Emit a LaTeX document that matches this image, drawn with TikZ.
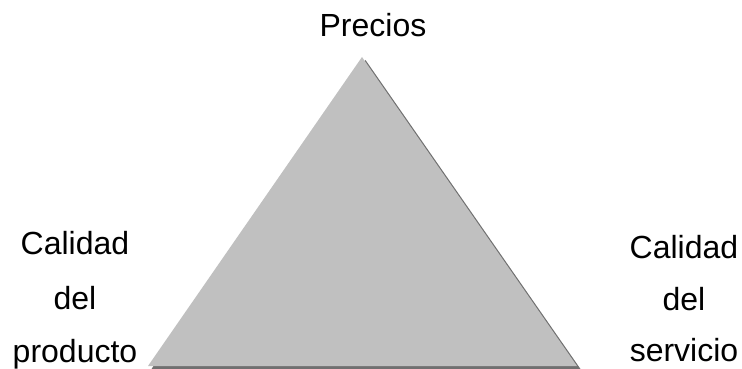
\documentclass[tikz,border=0pt]{standalone}
\usepackage{fontspec}
\setmainfont{Liberation Sans}
\begin{document}
\begin{tikzpicture}[x=1pt,y=-1pt,
  lbl/.style={inner sep=0pt,anchor=base,font=\fontsize{32}{32}\selectfont}]
\useasboundingbox (0,0) rectangle (742,369);
\coordinate (A) at (362,57);
\coordinate (B) at (148,366);
\coordinate (C) at (577,366);
\fill[gray!60!black!80] ([shift={(3.5,3)}]A) -- ([shift={(3.5,3)}]C) -- ([shift={(3.5,3)}]B) -- cycle;
\fill[fill={rgb,255:red,192;green,192;blue,192}] (A) -- (B) -- (C) -- cycle;
\node[lbl] (p) at (373,37) {Precios};
\node[lbl] (l1) at (75,254) {Calidad};
\node[lbl] (l2) at (75,309) {del};
\node[lbl] (l3) at (75,362) {producto};
\node[lbl] (r1) at (684,258) {Calidad};
\node[lbl] (r2) at (684,310) {del};
\node[lbl] (r3) at (684,361) {servicio};
\end{tikzpicture}
\end{document}
